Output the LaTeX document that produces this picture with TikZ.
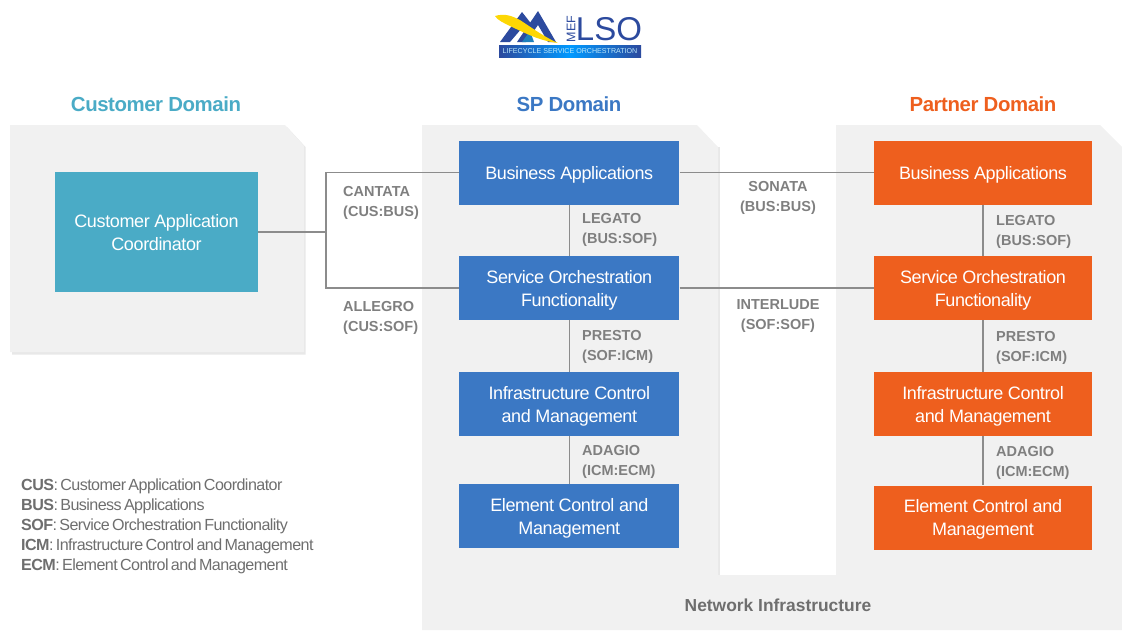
\documentclass[tikz,border=0pt]{standalone}
\usepackage{fontspec}
\setmainfont{Liberation Sans}
\newfontfamily\tightfont[LetterSpace=-2.1]{Liberation Sans}
\newfontfamily\legfont[LetterSpace=-3.5,WordSpace=0.6]{Liberation Sans}
\definecolor{custC}{HTML}{4AABC6}
\definecolor{spC}{HTML}{3B78C4}
\definecolor{parC}{HTML}{EE5F1E}
\definecolor{panelC}{HTML}{F1F1F1}
\definecolor{shadeC}{HTML}{E8E8E8}
\definecolor{lineC}{HTML}{8C8C8C}
\definecolor{labC}{HTML}{7F7F7F}
\definecolor{legC}{HTML}{6E6E6E}
\definecolor{logoC}{HTML}{2C4A9E}
\tikzset{
  block/.style={minimum height=64pt,inner sep=0pt,text=white,align=center,
    font=\tightfont\fontsize{18}{23}\selectfont},
  one/.style={execute at begin node={\rule{0pt}{17pt}}},
  two/.style={execute at begin node={\rule[-9pt]{0pt}{54pt}}},
  blockS/.style={block,fill=spC,minimum width=220pt},
  blockP/.style={block,fill=parC,minimum width=218pt},
  link/.style={draw=lineC,line width=1.6pt},
  iface/.style={inner sep=0pt,text=labC,font=\bfseries\fontsize{14.5}{20}\selectfont},
  ifaceL/.style={iface,align=left,anchor=west},
  ifaceC/.style={iface,align=center},
  dom/.style={inner sep=0pt,font=\tightfont\bfseries\fontsize{20.4}{22}\selectfont},
  leg/.style={inner sep=0pt,anchor=west,text=legC,font=\legfont\fontsize{16.1}{18}\selectfont},
}
\begin{document}
\begin{tikzpicture}[x=1pt,y=-1pt]
\useasboundingbox (0,0) rectangle (1122,630);
% panels
\fill[shadeC] (12,127) -- (287,127) -- (305.5,147) -- (305.5,354.5) -- (12,354.5) -- cycle;
\fill[panelC] (10,125) -- (285,125) -- (304,146) -- (304,352) -- (10,352) -- cycle;
\fill[shadeC] (718,147) rectangle (720,576);
\fill[panelC] (422,125) -- (697,125) -- (718,147) -- (718,575) -- (836,575) -- (836,125)
  -- (1100,125) -- (1122,147) -- (1122,630) -- (422,630) -- cycle;
% logo
\begin{scope}
\fill[logoC] (500,42) -- (522,12) -- (533,26) -- (526,35) -- (522,28) -- (510,42) -- cycle;
\fill[logoC] (517,42) -- (538,11) -- (556,42) -- (548,42) -- (538,25) -- (526,42) -- cycle;
\fill[logoC!70!cyan] (522,42) -- (530,31) -- (534,42) -- cycle;
\fill[yellow!75!orange] (495,16) .. controls (505,13) and (512,16) .. (520,20)
  .. controls (532,28) and (546,38) .. (558,43)
  .. controls (540,41) and (525,33) .. (512,27)
  .. controls (504,23) and (497,20) .. (495,16) -- cycle;
\shade[left color=logoC,right color=logoC,middle color=cyan!60!blue] (499,45) rectangle (641,57);
\node[inner sep=0pt,text=cyan!25!white,font=\fontsize{7.1}{9}\selectfont] (strip) at (570,51) {LIFECYCLE SERVICE ORCHESTRATION};
\node[inner sep=0pt,rotate=90,text=logoC,font=\fontsize{12.5}{12}\selectfont] (mef) at (571,29) {MEF};
\node[inner sep=0pt,text=logoC,font=\fontsize{33}{36}\selectfont] (lso) at (609,29) {LSO};
\end{scope}
% titles
\node[dom,text=custC] (tc) at (156,104) {Customer Domain};
\node[dom,text=spC] (ts) at (569,104) {SP Domain};
\node[dom,text=parC] (tp) at (983,104) {Partner Domain};
% blocks
\node[block,two,fill=custC,minimum width=203pt,minimum height=120pt] (cac) at (156.5,232) {Customer Application\\Coordinator};
\node[blockS,one] (bs) at (569.3,172.5) {Business Applications};
\node[blockS,two] (ss) at (569.3,288) {Service Orchestration\\Functionality};
\node[blockS,two] (is) at (569.3,404) {Infrastructure Control\\and Management};
\node[blockS,two] (es) at (569.3,516) {Element Control and\\Management};
\node[blockP,one] (bp) at (983,172.5) {Business Applications};
\node[blockP,two] (sp) at (983,288) {Service Orchestration\\Functionality};
\node[blockP,two] (ip) at (983,404) {Infrastructure Control\\and Management};
\node[blockP,two] (ep) at (983,517.5) {Element Control and\\Management};
% connectors
\coordinate (jm) at (326,232);
\coordinate (jt) at (326,172.5);
\coordinate (jb) at (326,288);
\draw[link] (cac.east) -- (jm);
\draw[link] (bs.west) -- (jt) -- (jb) -- (ss.west);
\draw[link] (bs.east) -- (bp.west);
\draw[link] (ss.east) -- (sp.west);
\draw[link] (bs) -- (ss);
\draw[link] (ss) -- (is);
\draw[link] (is) -- (es);
\draw[link] (bp) -- (sp);
\draw[link] (sp) -- (ip);
\draw[link] (ip) -- (ep);
% interface labels
\node[ifaceL] (l1) at (343,203) {CANTATA\\(CUS:BUS)};
\node[ifaceL] (l2) at (343,318) {ALLEGRO\\(CUS:SOF)};
\node[ifaceL] (l3) at (582,230) {LEGATO\\(BUS:SOF)};
\node[ifaceL] (l4) at (582,347) {PRESTO\\(SOF:ICM)};
\node[ifaceL] (l5) at (582,462) {ADAGIO\\(ICM:ECM)};
\node[ifaceC] (l6) at (778,198) {SONATA\\(BUS:BUS)};
\node[ifaceC] (l7) at (778,316) {INTERLUDE\\(SOF:SOF)};
\node[ifaceL] (l8) at (996,232) {LEGATO\\(BUS:SOF)};
\node[ifaceL] (l9) at (996,348) {PRESTO\\(SOF:ICM)};
\node[ifaceL] (l10) at (996,463) {ADAGIO\\(ICM:ECM)};
\node[inner sep=0pt,text=legC,font=\bfseries\fontsize{17.4}{20}\selectfont] (ni) at (778,605) {Network Infrastructure};
% legend
\node[leg] (k1) at (21,486.5) {\textbf{CUS}: Customer Application Coordinator};
\node[leg] (k2) at (21,506.5) {\textbf{BUS}: Business Applications};
\node[leg] (k3) at (21,526.5) {\textbf{SOF}: Service Orchestration Functionality};
\node[leg] (k4) at (21,546.5) {\textbf{ICM}: Infrastructure Control and Management};
\node[leg] (k5) at (21,566.5) {\textbf{ECM}: Element Control and Management};
\end{tikzpicture}
\end{document}
